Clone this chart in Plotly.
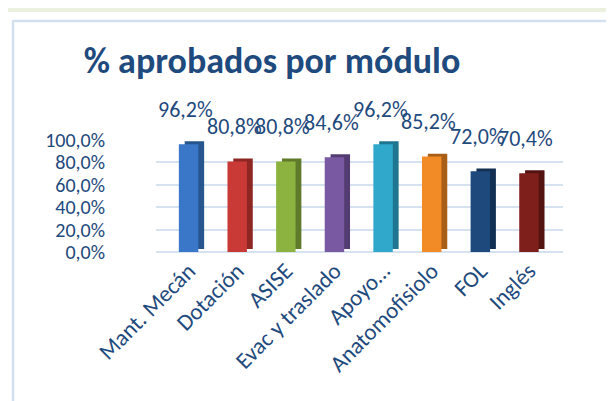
import plotly.graph_objects as go

categories = ["Mant. Mecán", "Dotación", "ASISE", "Evac y traslado", "Apoyo…",
              "Anatomofisiolo", "FOL", "Inglés"]
values = [96.2, 80.8, 80.8, 84.6, 96.2, 85.2, 72.0, 70.4]
front_colors = ["#3A77C8", "#C93A37", "#8CB33F", "#7A59A3", "#2FA8CC", "#F28A25", "#1E497C", "#7F1F1C"]
side_colors = ["#27568F", "#8E2624", "#5F7B29", "#533C72", "#1F7690", "#A95E18", "#132F52", "#531311"]
y_ticks = [0, 20, 40, 60, 80, 100]

TXT = "#1F4A7D"
FONT = "Calibri, Carlito, Lato, sans-serif"

W, H = 614, 401
L, R, T, B = 148, 59, 132, 157
pw, ph = W - L - R, H - T - B

def px(x):
    return (x - L) / pw

def py(y):
    return (H - B - y) / ph

def pct(v):
    return f"{v:.1f}%".replace(".", ",")

fig = go.Figure()
fig.add_trace(go.Bar(x=categories, y=values, base=2.6, width=0.4, offset=-0.08,
                     marker=dict(color=side_colors, line=dict(width=0)),
                     hoverinfo="skip", showlegend=False))
fig.add_trace(go.Bar(x=categories, y=values, width=0.4, offset=-0.2,
                     marker=dict(color=front_colors, line=dict(width=0)),
                     showlegend=False))

for c, v in zip(categories, values):
    fig.add_annotation(x=c, y=v, text=pct(v), showarrow=False,
                       yshift=35, xshift=-3, yanchor="middle",
                       font=dict(family=FONT, size=22, color=TXT))

shapes = [
    dict(type="rect", xref="paper", yref="paper", x0=px(0), x1=px(W), y0=py(0), y1=py(4),
         fillcolor="#EBF1DE", line=dict(width=0), layer="below"),
    dict(type="rect", xref="paper", yref="paper", x0=px(5), x1=px(W + 20), y0=py(13), y1=py(H + 20),
         fillcolor="rgba(0,0,0,0)", line=dict(color="#D3DFEE", width=2.5), layer="below"),
]
fig.update_layout(shapes=shapes)

fig.update_layout(
    width=W, height=H,
    margin=dict(l=L, r=R, t=T, b=B),
    paper_bgcolor="white", plot_bgcolor="white",
    barmode="overlay",
    title=dict(text="<b>% aprobados por módulo</b>", x=264 / W, xanchor="center",
               y=1 - 52 / H, yanchor="middle",
               font=dict(family=FONT, size=36, color=TXT)),
    xaxis=dict(range=[-0.67, 7.7], showgrid=False, zeroline=False, showline=False,
               tickangle=-45, ticks="", tickfont=dict(family=FONT, size=23, color=TXT),
               fixedrange=True),
    yaxis=dict(range=[0, 100], tickvals=y_ticks, ticktext=[pct(t) for t in y_ticks],
               showgrid=True, gridcolor="#D6E2F0", gridwidth=1.5, zeroline=True,
               zerolinecolor="#D6E2F0", zerolinewidth=2, showline=False,
               ticklabelstandoff=50,
               tickfont=dict(family=FONT, size=20, color=TXT), fixedrange=True),
)

fig.write_html("out.html")
